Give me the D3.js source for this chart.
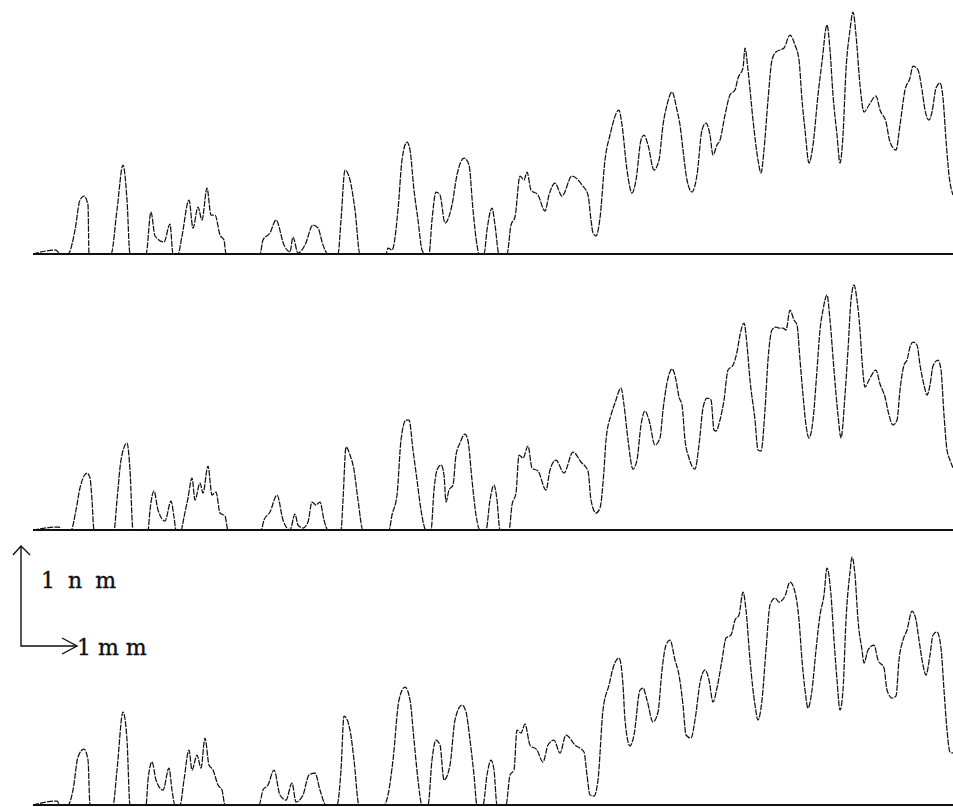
<!DOCTYPE html>
<html>
<head>
<meta charset="utf-8">
<script src="https://cdn.jsdelivr.net/npm/d3@7"></script>
<style>
  html, body { margin: 0; padding: 0; background: #fff; }
  svg { display: block; }
</style>
</head>
<body>
<svg id="chart" width="953" height="807"></svg>
<script>
(function () {
    'use strict';

    const WIDTH = 953;
    const HEIGHT = 807;

    // surface profiles: [position along scan (recorder steps, 56 per mm), height (0.01 nm)]
    const profileA = [
        [0,0],[23,4],[27,0],[35,0],[42,24],[47,54],[51,58],[55,49],[56,0],[78,0],[84,44],[90,89],[94,54],[97,0],
        [113,0],[118,42],[122,18],[131,12],[137,30],[140,0],[145,0],[149,18],[156,54],[160,26],[165,47],[169,34],
        [174,66],[178,39],[182,39],[187,19],[191,14],[193,0],[227,0],[230,14],[237,21],[243,34],[251,9],[257,2],
        [260,17],[265,1],[272,9],[280,29],[285,26],[290,9],[295,0],[305,0],[308,34],[312,84],[317,74],[322,44],
        [327,0],[353,0],[355,6],[359,4],[365,44],[369,94],[374,112],[377,104],[381,64],[385,34],[389,4],[392,0],
        [396,0],[399,34],[403,62],[407,59],[412,31],[419,49],[424,79],[431,96],[436,89],[440,44],[444,9],[446,0],
        [451,0],[454,24],[459,46],[462,29],[466,0],[474,0],[478,29],[482,37],[487,78],[491,74],[494,82],[498,64],
        [505,59],[512,43],[516,59],[522,71],[529,58],[539,78],[549,69],[555,59],[558,34],[560,21],[563,18],[567,36],
        [572,94],[577,119],[586,144],[589,129],[594,84],[599,61],[603,74],[608,114],[611,119],[615,109],[621,84],
        [626,94],[630,129],[634,149],[639,162],[644,144],[647,129],[650,104],[654,74],[659,62],[664,79],[669,124],
        [673,131],[677,119],[680,99],[684,109],[687,114],[692,139],[697,159],[702,164],[705,176],[710,186],[712,206],
        [715,184],[720,134],[725,94],[728,81],[731,104],[735,154],[739,194],[743,202],[747,204],[751,206],[757,219],
        [762,209],[766,194],[769,154],[772,124],[776,91],[780,109],[785,159],[789,192],[794,229],[797,204],[800,159],
        [804,119],[807,91],[810,119],[813,184],[817,224],[820,242],[823,219],[827,169],[831,142],[836,149],[843,158],
        [847,144],[853,132],[857,112],[863,104],[867,129],[872,164],[877,176],[880,188],[885,184],[889,164],[892,144],
        [896,134],[899,142],[903,166],[907,171],[910,156],[913,114],[916,79],[920,59]
    ];

    const profileB = [
        [0,0],[26,3],[29,0],[38,0],[43,20],[47,42],[51,54],[54,57],[57,52],[59,30],[61,0],[81,0],[84,30],[88,70],
        [94,87],[97,60],[100,0],[115,0],[117,20],[121,39],[125,20],[132,9],[138,29],[141,13],[143,0],[148,0],
        [151,13],[155,32],[159,52],[162,30],[167,47],[170,37],[175,64],[179,35],[183,38],[187,17],[192,14],[195,0],
        [228,0],[231,10],[237,18],[244,35],[250,10],[257,0],[262,16],[265,5],[270,2],[275,8],[279,28],[283,25],
        [287,28],[291,10],[295,0],[308,0],[310,30],[313,83],[317,75],[321,60],[325,30],[330,0],[356,0],[359,15],
        [364,35],[368,90],[373,110],[376,110],[380,80],[384,50],[388,20],[393,0],[398,0],[401,40],[404,60],[408,65],
        [411,55],[413,28],[416,40],[420,45],[423,75],[427,87],[432,96],[435,89],[439,50],[443,15],[447,0],[453,0],
        [457,30],[461,45],[464,30],[467,0],[476,0],[479,25],[483,37],[486,75],[490,72],[495,84],[499,62],[505,59],
        [513,40],[517,60],[523,70],[531,57],[540,78],[548,68],[555,59],[558,30],[563,17],[567,22],[571,60],[573,90],
        [578,115],[582,127],[588,142],[591,125],[595,90],[600,61],[604,70],[608,105],[612,119],[616,110],[622,85],
        [627,92],[630,120],[634,147],[639,161],[643,150],[646,133],[649,125],[652,90],[656,72],[662,61],[666,85],
        [670,122],[674,132],[678,130],[681,100],[683,99],[687,110],[691,130],[695,160],[700,165],[704,178],[707,195],
        [711,207],[714,185],[717,150],[722,110],[725,80],[728,79],[732,120],[735,170],[739,200],[743,203],[746,202],
        [750,202],[753,200],[757,220],[761,210],[764,205],[767,170],[770,135],[773,105],[776,92],[780,110],[784,160],
        [787,200],[790,220],[794,235],[797,210],[801,160],[805,115],[808,92],[812,135],[815,180],[818,230],[821,245],
        [824,230],[827,200],[829,170],[832,143],[836,150],[843,160],[847,146],[852,133],[856,115],[860,105],[864,110],
        [867,140],[871,165],[874,170],[877,183],[880,188],[884,185],[887,165],[891,145],[894,135],[897,145],[900,164],
        [905,170],[908,160],[911,115],[914,80],[917,70],[920,62]
    ];

    const profileC = [
        [0,0],[24,4],[27,0],[35,0],[40,15],[45,48],[51,56],[55,45],[57,0],[80,0],[84,35],[90,93],[94,65],[97,0],
        [113,0],[115,25],[119,43],[123,25],[130,15],[136,37],[139,15],[142,0],[147,0],[151,25],[156,55],[159,35],
        [164,50],[168,37],[172,67],[176,40],[180,35],[185,20],[189,15],[192,0],[226,0],[230,15],[235,20],[241,35],
        [247,10],[253,5],[259,22],[263,3],[270,10],[276,30],[282,32],[287,15],[293,0],[304,0],[308,35],[311,89],
        [317,75],[321,45],[326,0],[351,0],[355,10],[360,45],[366,105],[372,118],[377,105],[381,65],[385,25],[389,0],
        [395,0],[399,45],[403,65],[407,60],[411,25],[417,40],[422,85],[429,100],[433,93],[437,65],[441,30],[444,0],
        [450,0],[454,30],[458,45],[461,35],[464,0],[473,0],[477,30],[481,35],[484,75],[488,72],[492,81],[497,60],
        [504,55],[510,43],[515,60],[521,65],[527,52],[533,70],[542,60],[551,53],[554,30],[557,10],[561,9],[565,25],
        [570,95],[576,120],[581,140],[586,147],[590,120],[592,85],[597,59],[601,70],[607,115],[610,117],[614,105],
        [620,83],[625,93],[629,135],[633,160],[637,165],[642,145],[646,130],[650,100],[653,70],[658,67],[662,85],
        [667,122],[672,135],[676,125],[680,103],[684,117],[689,145],[693,167],[698,170],[702,185],[706,190],[710,213],
        [713,195],[717,145],[722,100],[725,85],[729,105],[733,155],[737,200],[742,207],[746,203],[752,209],[757,223],
        [762,213],[766,185],[769,145],[772,115],[775,97],[779,115],[783,155],[787,190],[791,210],[794,237],[798,210],
        [801,165],[804,125],[807,95],[810,115],[813,185],[817,233],[819,248],[822,230],[825,185],[829,155],[831,142],
        [835,155],[841,160],[845,145],[851,137],[854,115],[859,107],[863,109],[866,145],[870,165],[874,175],[879,194],
        [883,185],[886,165],[890,140],[893,130],[897,150],[900,170],[904,173],[908,157],[911,115],[914,75],[917,53],
        [920,52]
    ];

    const profiles = [profileA, profileB, profileC];

    // scale bar
    const barLabels = ["1 n m", "1 m m"];
    const STEPS_PER_MM = 56;
    const UNITS_PER_NM = 100;

    const svg = d3.select("#chart");
    svg.append("rect").attr("width", WIDTH).attr("height", HEIGHT).attr("fill", "#fff");

    const x = d3.scaleLinear().domain([0, 920]).range([33, 953]);
    const baselines = [254, 530, 805];

    baselines.forEach(function (base, i) {
        const y = d3.scaleLinear().domain([0, 100]).range([base, base - 100]);

        svg.append("line")
            .attr("x1", x(0)).attr("x2", x(920))
            .attr("y1", y(0)).attr("y2", y(0))
            .attr("stroke", "#111")
            .attr("stroke-width", 2);

        const line = d3.line()
            .x(d => x(d[0]))
            .y(d => y(d[1]))
            .curve(d3.curveMonotoneX);

        svg.append("path")
            .datum(profiles[i])
            .attr("d", line)
            .attr("fill", "none")
            .attr("stroke", "#111")
            .attr("stroke-width", 1.25)
            .attr("stroke-dasharray", "6,1.2");
    });

    // scale bar: 1 nm up, 1 mm across
    const ox = 21, oy = 646;
    const hy = d3.scaleLinear().domain([0, UNITS_PER_NM]).range([oy, oy - 100]);
    const mm = x(STEPS_PER_MM) - x(0);

    const bar = svg.append("g")
        .attr("fill", "none")
        .attr("stroke", "#111")
        .attr("stroke-width", 1.4);

    bar.append("path").attr("d", `M${ox},${hy(UNITS_PER_NM)}V${oy}H${ox + mm}`);
    bar.append("path").attr("d", `M${ox - 8},${hy(UNITS_PER_NM) + 9}L${ox},${hy(UNITS_PER_NM)}L${ox + 9},${hy(UNITS_PER_NM) + 9}`);
    bar.append("path").attr("d", `M${ox + mm - 15},${oy - 8}L${ox + mm},${oy}L${ox + mm - 15},${oy + 8}`);

    svg.selectAll("text.bar")
        .data(barLabels)
        .join("text")
        .attr("class", "bar")
        .attr("x", (d, i) => i === 0 ? 41 : ox + mm)
        .attr("y", (d, i) => i === 0 ? 588 : 655)
        .attr("font-family", "'DejaVu Serif', serif")
        .attr("font-size", 22)
        .attr("letter-spacing", (d, i) => i === 0 ? 3 : 0)
        .attr("fill", "#111")
        .attr("stroke", "#111")
        .attr("stroke-width", 0.4)
        .text(d => d);
})();
</script>
</body>
</html>
